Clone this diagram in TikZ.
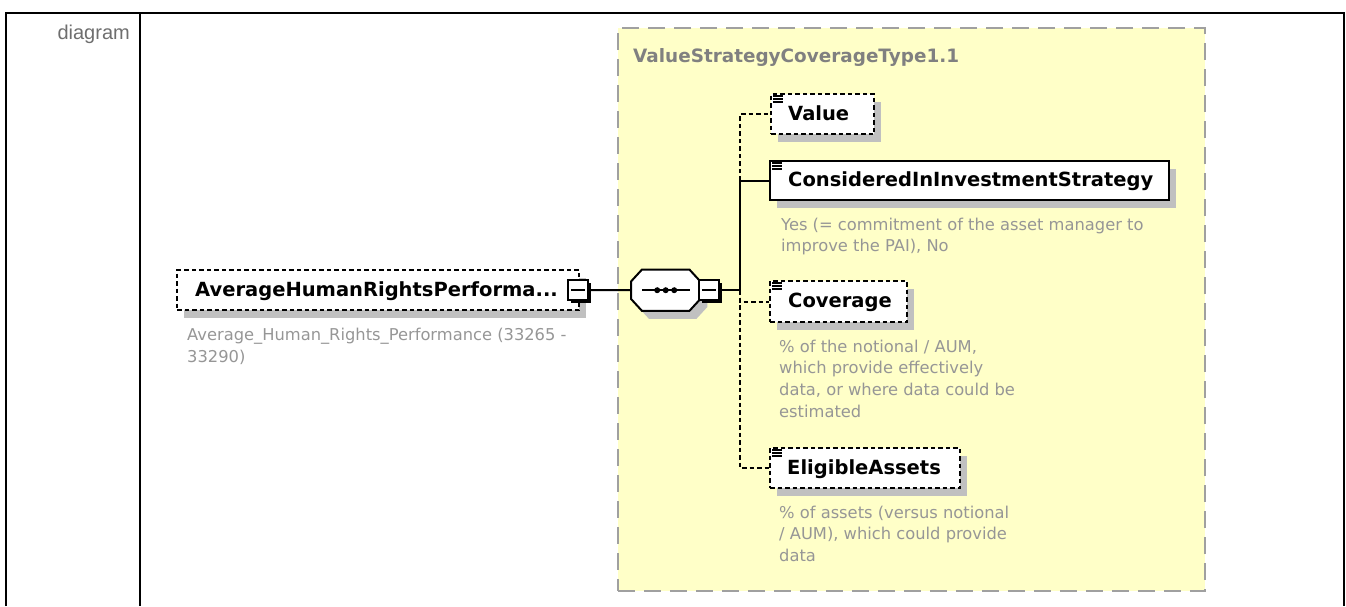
\documentclass[tikz,border=0pt]{standalone}
\usepackage{fontspec}
\setmainfont{DejaVu Sans}
\newfontfamily\labelfont{Liberation Sans}
\definecolor{ylw}{RGB}{255,255,200}
\definecolor{shgray}{RGB}{192,192,192}
\definecolor{descgray}{RGB}{150,150,150}
\definecolor{framegray}{RGB}{160,160,160}
\definecolor{titlegray}{RGB}{128,128,128}
\definecolor{lblgray}{RGB}{110,110,110}
\begin{document}
\begin{tikzpicture}[x=1pt,y=-1pt,
  elembox/.style={draw=black, line width=2pt, fill=white, inner sep=0pt, anchor=north west, minimum height=40pt,
     preaction={fill=shgray, transform canvas={shift={(7,8)}}}},
  optbox/.style={elembox, dash pattern=on 4.5pt off 3pt},
  ename/.style={font=\bfseries\fontsize{19.5}{23}\selectfont, anchor=base west, inner sep=0pt},
  edesc/.style={font=\fontsize{16.3}{21.7}\selectfont, text=descgray, anchor=north west, align=left, inner sep=0pt},
  expbox/.style={draw=black, line width=2pt, fill=white, minimum width=20pt, minimum height=20pt, inner sep=0pt,
     preaction={fill=black, transform canvas={shift={(3,3)}}},
     path picture={\draw[line width=1.5pt] ([shift={(-7,0)}]path picture bounding box.center) -- ([shift={(7,0)}]path picture bounding box.center);}},
  conn/.style={line width=2pt},
  optconn/.style={line width=2pt, dash pattern=on 4.5pt off 3pt}
]
\useasboundingbox (0,0) rectangle (1346,606);
% frame
\draw[line width=2pt] (6,606) -- (6,13) -- (1344,13) -- (1344,606);
\draw[line width=2pt] (140,13) -- (140,606);
\node[font=\labelfont\fontsize{20}{24}\selectfont, text=lblgray, anchor=base east, inner sep=0pt] (lbl) at (130,39) {diagram};
% complex type box
\node[draw=framegray, line width=2pt, dash pattern=on 17pt off 9pt, fill=ylw, minimum width=587pt, minimum height=563pt, anchor=north west, inner sep=0pt] (ctype) at (617,27) {};
\node[font=\bfseries\fontsize{18.4}{22}\selectfont, text=titlegray, anchor=base west, inner sep=0pt] (ctitle) at (633,62.5) {ValueStrategyCoverageType1.1};
% root element
\node[optbox, minimum width=402pt] (root) at (176,269) {};
\node[ename] (rootname) at (195,296.5) {AverageHumanRightsPerforma...};
\node[edesc] (rootdesc) at (187,325.3) {\strut Average\_Human\_Rights\_Performance (33265 -\\33290)};
\node[expbox] (rexp) at (578,290) {};
% sequence compositor
\node[minimum width=69pt, minimum height=41pt, inner sep=0pt, anchor=north west] (seq) at (631,269.5) {};
\fill[shgray, transform canvas={shift={(7,8)}}]
  ([shift={(11,0)}]seq.north west) -- ([shift={(-11,0)}]seq.north east) -- ([shift={(0,12)}]seq.north east)
  -- ([shift={(0,-12)}]seq.south east) -- ([shift={(-11,0)}]seq.south east) -- ([shift={(11,0)}]seq.south west)
  -- ([shift={(0,-12)}]seq.south west) -- ([shift={(0,12)}]seq.north west) -- cycle;
\draw[line width=2pt, fill=white]
  ([shift={(11,0)}]seq.north west) -- ([shift={(-11,0)}]seq.north east) -- ([shift={(0,12)}]seq.north east)
  -- ([shift={(0,-12)}]seq.south east) -- ([shift={(-11,0)}]seq.south east) -- ([shift={(11,0)}]seq.south west)
  -- ([shift={(0,-12)}]seq.south west) -- ([shift={(0,12)}]seq.north west) -- cycle;
\draw[line width=2pt] ([shift={(11,0)}]seq.west) -- ([shift={(-10,0)}]seq.east);
\foreach \dx in {-8.5,0,8.5}{\fill ([shift={(\dx,0)}]seq.center) circle (3pt);}
\node[expbox] (sexp) at (709,290) {};
% child elements
\node[optbox, minimum width=103pt] (value) at (770,93) {};
\node[ename] (valuename) at (788,120) {Value};
\node[elembox, minimum width=399pt, minimum height=39pt] (considered) at (769,160) {};
\node[ename] (consname) at (788,186.5) {ConsideredInInvestmentStrategy};
\node[edesc] (consdesc) at (781,214.8) {\strut Yes (= commitment of the asset manager to\\improve the PAI), No};
\node[optbox, minimum width=137pt, minimum height=41pt] (coverage) at (769,280) {};
\node[ename] (covname) at (788,307.5) {Coverage};
\node[edesc] (covdesc) at (779,336.8) {\strut \% of the notional / AUM,\\which provide effectively\\data, or where data could be\\estimated};
\node[optbox, minimum width=190pt] (eligible) at (769,447) {};
\node[ename] (eligname) at (787,474) {EligibleAssets};
\node[edesc] (eligdesc) at (779,502.8) {\strut \% of assets (versus notional\\/ AUM), which could provide\\data};
% text icons
\foreach \n in {value,considered,coverage,eligible}{
  \draw[line width=1.2pt] ([shift={(3,3)}]\n.north west) -- ++(10,0)
     ([shift={(3,6)}]\n.north west) -- ++(10,0)
     ([shift={(3,9)}]\n.north west) -- ++(10,0);
}
% connectors
\coordinate (jn) at (740,290);
\draw[conn] (rexp.east) -- (seq.west);
\draw[conn] (sexp.east) -- (jn);
\draw[conn] (jn) |- (considered.west);
\draw[optconn] (jn |- considered.west) |- (value.west);
\draw[optconn] (jn) |- (coverage.west);
\draw[optconn] (jn) |- (eligible.west);
\end{tikzpicture}
\end{document}
